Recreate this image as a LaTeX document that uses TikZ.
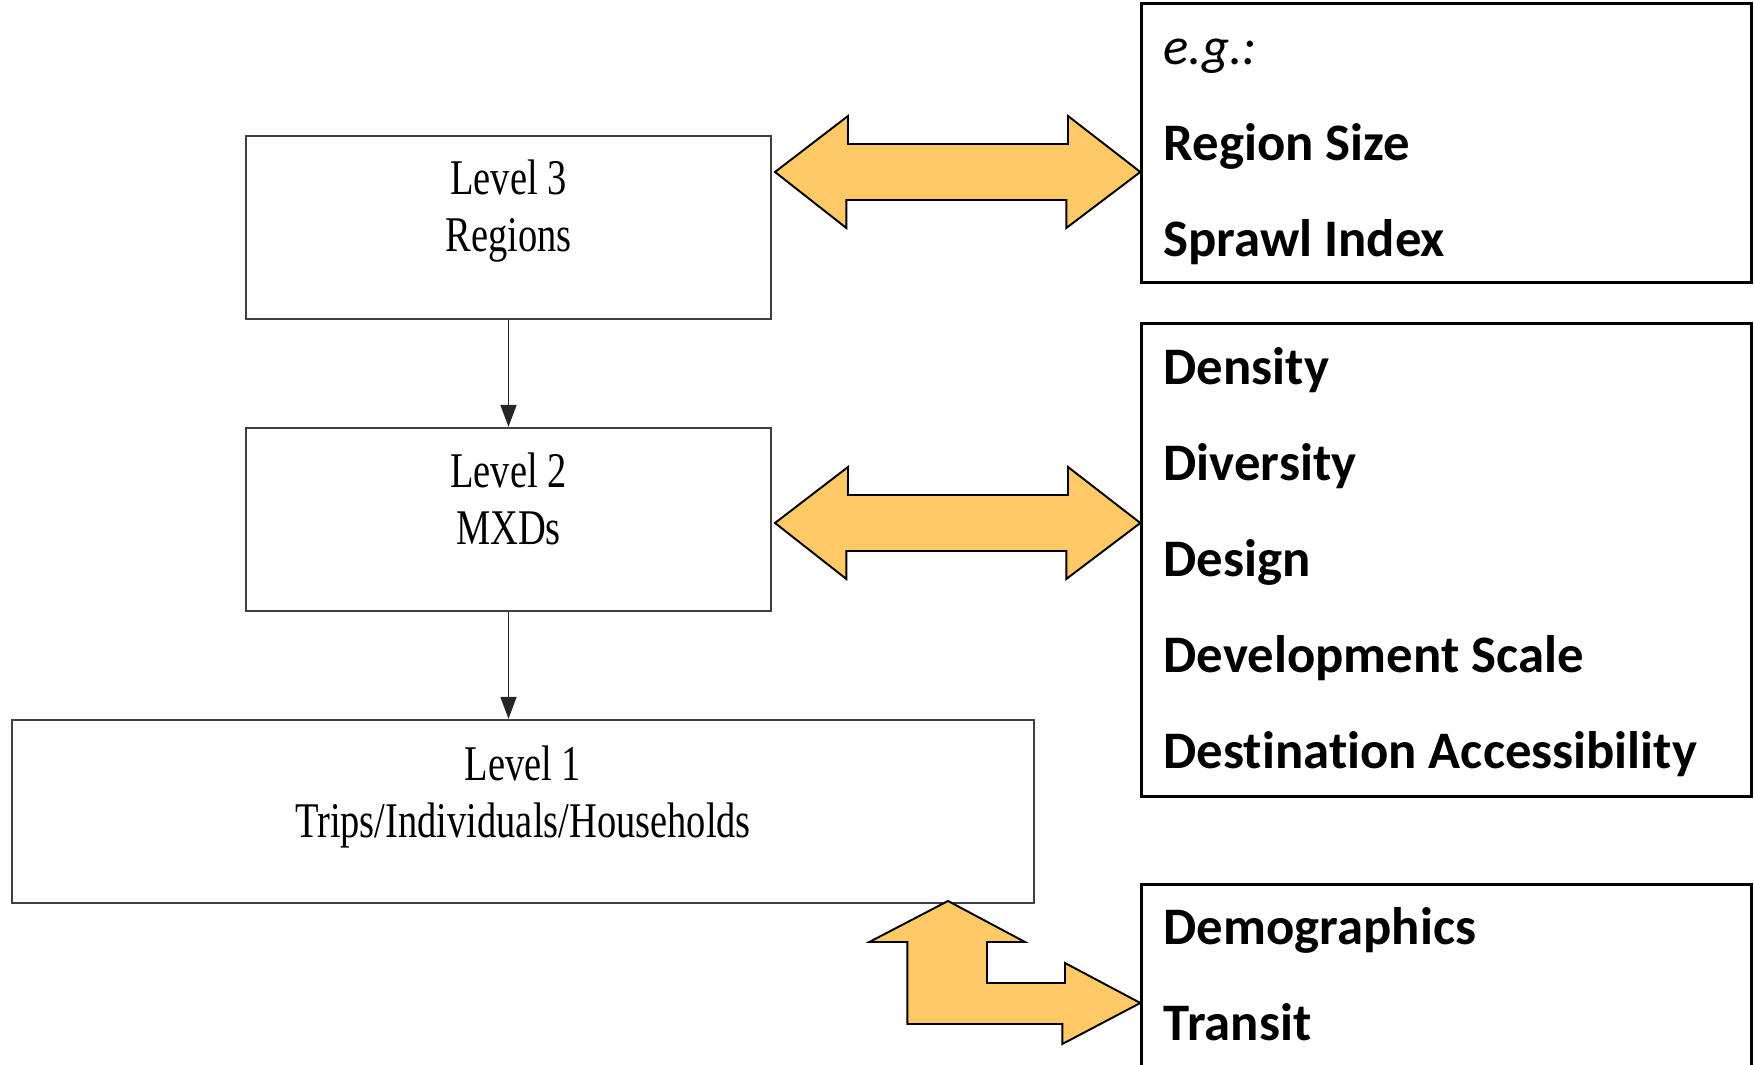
\documentclass[tikz,border=0pt]{standalone}
\usepackage{fontspec}
\usepackage{graphicx}
\usepackage{xcolor}
\newfontfamily\boldsans[Ligatures=NoCommon]{Carlito}
\newfontfamily\levelserif{Liberation Serif}
\usetikzlibrary{arrows.meta}
\definecolor{arrowfill}{RGB}{255,202,102}
\newcommand{\narrowtext}[1]{\scalebox{0.77}[1]{#1}}

\begin{document}
\begin{tikzpicture}[x=0.01cm,y=-0.01cm]
        \tikzstyle{level box}=[draw=black!75,line width=0.6pt,inner sep=0]
        \tikzstyle{level text}=[font=\levelserif\fontsize{14.2}{16}\selectfont,text=black,anchor=base,inner sep=0]
        \tikzstyle{factor box}=[draw=black,line width=0.85pt,inner sep=0]
        \tikzstyle{factor}=[font=\boldsans\bfseries\fontsize{15}{18}\selectfont,anchor=base west,inner sep=0]
        \tikzstyle{flow}=[draw=black!85,line width=0.45pt,-{Triangle[length=0.22cm,width=0.16cm]}]
        \tikzstyle{link}=[fill=arrowfill,draw=black,line width=0.55pt,line join=miter]

        \path[use as bounding box,fill=white] (0,0) rectangle (1754,1065);

        % levels
        \node(l3)[level box,minimum width=5.25cm,minimum height=1.83cm] at (508.5,227.5) {};
        \node(l2)[level box,minimum width=5.25cm,minimum height=1.83cm] at (508.5,519.5) {};
        \node(l1)[level box,minimum width=10.22cm,minimum height=1.83cm] at (523,811.5) {};
        \node(l3a)[level text] at (508.5,195) {\narrowtext{Level 3}};
        \node(l3b)[level text] at (508.5,252) {\narrowtext{Regions}};
        \node(l2a)[level text] at (508.5,488) {\narrowtext{Level 2}};
        \node(l2b)[level text] at (508.5,545) {\narrowtext{MXDs}};
        \node(l1a)[level text] at (523,781) {\narrowtext{Level 1}};
        \node(l1b)[level text] at (523,838) {\narrowtext{Trips/Individuals/Households}};

        \draw[flow] (l3.south) -- (l2.north);
        \draw[flow] (l2.south) -- (l2.south |- l1.north);

        % factor boxes
        \node(r1)[factor box,minimum width=6.09cm,minimum height=2.78cm] at (1446.5,143) {};
        \node(r2)[factor box,minimum width=6.09cm,minimum height=4.72cm] at (1446.5,560) {};
        \node(r3)[factor box,minimum width=6.09cm,minimum height=2.15cm] at (1446.5,992.5) {};

        \node(eg)[factor,font=\boldsans\itshape\fontsize{15}{18}\selectfont] at (1163,65) {e.g.:};
        \foreach \t [count=\i from 0] in {Region Size,Sprawl Index}
            \node(a\i)[factor] at (1163,{161+96*\i}) {\t};
        \foreach \t [count=\i from 0] in {Density,Diversity,Design,Development Scale,Destinat\kern0pt ion Accessibility}
            \node(d\i)[factor] at (1163,{385+96*\i}) {\t};
        \foreach \t [count=\i from 0] in {Demographics,Transit}
            \node(p\i)[factor] at (1163,{945+96*\i}) {\t};

        % block arrows
        \foreach \y in {172,523}{
            \coordinate (ta) at (775,\y);
            \coordinate (tb) at (r1.west |- ta);
            \draw[link] (ta) -- ++(73,-56) -- ++(0,28) -- ++(220,0) -- ++(0,-28) -- (tb)
                -- ++(-74,56) -- ++(0,-28) -- ++(-220,0) -- ++(0,28) -- cycle;
        }
        \coordinate (up) at (948,901);
        \coordinate (right) at (r3.west |- 0,1003);
        \draw[link] (up) -- ++(77,41) -- ++(-38,0) -- ++(0,41) -- ++(78,0) -- ++(0,-20) -- (right)
            -- ++(-78,41) -- ++(0,-20) -- ++(-155,0) -- ++(0,-82) -- ++(-38,0) -- cycle;
\end{tikzpicture}
\end{document}
